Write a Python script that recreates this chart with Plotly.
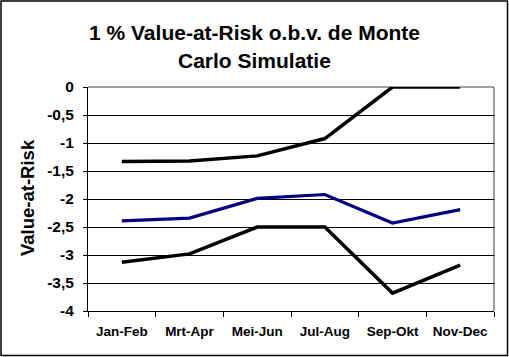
import plotly.graph_objects as go

categories = ["Jan-Feb", "Mrt-Apr", "Mei-Jun", "Jul-Aug", "Sep-Okt", "Nov-Dec"]
upper = [-1.33, -1.32, -1.23, -0.92, 0.0, 0.0]
middle = [-2.39, -2.34, -1.99, -1.92, -2.43, -2.19]
lower = [-3.13, -2.98, -2.50, -2.50, -3.68, -3.18]
y_tickvals = [0, -0.5, -1, -1.5, -2, -2.5, -3, -3.5, -4]
y_ticktext = ["0", "-0,5", "-1", "-1,5", "-2", "-2,5", "-3", "-3,5", "-4"]
title_lines = ["1 % Value-at-Risk o.b.v. de Monte", "Carlo Simulatie"]
y_title = "Value-at-Risk"

W, H = 509, 357
ML, MR, MT, MB = 88, 15, 87, 46
PW, PH = W - ML - MR, H - MT - MB

def px_x(px):
    return (px - ML) / PW

def px_y(py):
    return (H - MB - py) / PH

FONT = "Arial, Liberation Sans, sans-serif"

fig = go.Figure()
fig.add_trace(go.Scatter(x=categories, y=upper, mode="lines",
                         line=dict(color="black", width=3.5), showlegend=False))
fig.add_trace(go.Scatter(x=categories, y=middle, mode="lines",
                         line=dict(color="#000080", width=3.2), showlegend=False))
fig.add_trace(go.Scatter(x=categories, y=lower, mode="lines",
                         line=dict(color="black", width=3.5), showlegend=False))

fig.update_layout(
    width=W, height=H,
    margin=dict(l=ML, r=MR, t=MT, b=MB, pad=0),
    paper_bgcolor="white", plot_bgcolor="white",
    showlegend=False,
    font=dict(family=FONT, color="black"),
    xaxis=dict(
        type="category", tickson="boundaries", ticks="outside", ticklen=5,
        tickcolor="black", tickwidth=1, showline=True, linecolor="black",
        linewidth=1, showgrid=False, zeroline=False,
        tickvals=categories, ticktext=["<b>" + c + "</b>" for c in categories],
        tickfont=dict(size=13.5, family=FONT),
        ticklabelstandoff=8, range=[-0.5, 5.5],
    ),
    yaxis=dict(
        range=[-4, 0], tickvals=y_tickvals,
        ticktext=["<b>" + t + "</b>" for t in y_ticktext],
        ticks="outside", ticklen=4, tickcolor="black", tickwidth=1,
        showline=True, linecolor="black", linewidth=1,
        showgrid=True, gridcolor="black", gridwidth=1, zeroline=False,
        tickfont=dict(size=15.5, family=FONT),
        ticklabelstandoff=6,
    ),
)

# plot-area border (grey, top and right)
fig.add_shape(type="line", xref="paper", yref="paper", x0=0, x1=1, y0=1, y1=1,
              line=dict(color="#808080", width=1.5), layer="between")
fig.add_shape(type="line", xref="paper", yref="paper", x0=1, x1=1, y0=0, y1=1,
              line=dict(color="#808080", width=1.5), layer="between")

# outer chart frame
fig.add_shape(type="rect", xref="paper", yref="paper",
              x0=px_x(1), x1=px_x(507.5), y0=px_y(1), y1=px_y(355.5),
              line=dict(color="black", width=1.5), layer="above")

# title
for line, py in zip(title_lines, [32, 61]):
    fig.add_annotation(text="<b>" + line + "</b>", xref="paper", yref="paper",
                       x=px_x(W / 2), y=px_y(py), xanchor="center", yanchor="middle",
                       showarrow=False, font=dict(size=21, family=FONT, color="black"))

# y-axis title
fig.add_annotation(text="<b>" + y_title + "</b>", xref="paper", yref="paper",
                   x=px_x(27), y=px_y(197), xanchor="center", yanchor="middle",
                   textangle=-90, showarrow=False,
                   font=dict(size=18.5, family=FONT, color="black"))

fig.write_html("out.html",
               config={"displayModeBar": False},
               post_script="document.body.style.margin='0';document.body.style.overflow='hidden';")
